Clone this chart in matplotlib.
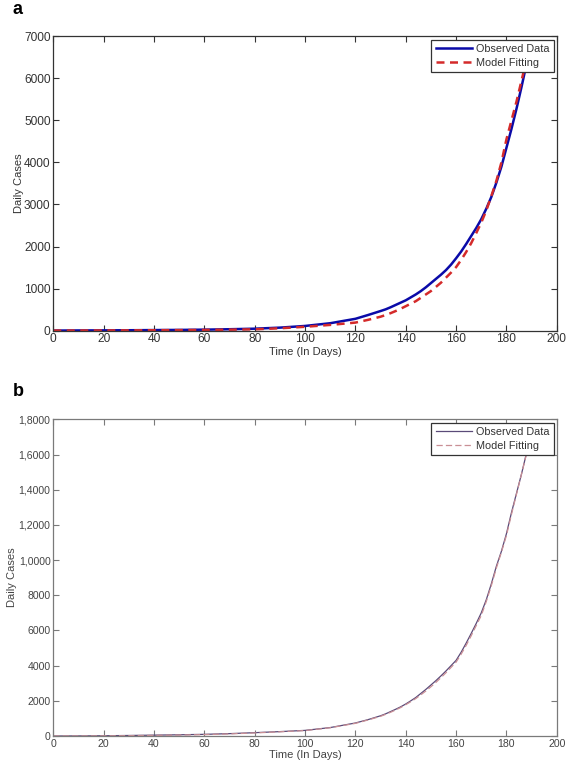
import matplotlib
matplotlib.use('Agg')
import matplotlib.pyplot as plt

plt.rcParams['font.family'] = ['Liberation Sans', 'DejaVu Sans']

# panel a: values
days_a = [0, 10, 20, 30, 40, 50, 60, 70, 80, 90, 100, 110, 120, 125,
          130, 132, 134, 136, 138, 140, 142, 144, 146, 148, 150, 152, 154, 156, 158,
          160, 162, 164, 166, 168, 170, 172, 174, 176, 178, 180,
          182, 184, 186, 188, 190]
observed_a = [0, 3, 5, 8, 12, 16, 22, 32, 45, 70, 110, 175, 280, 370,
              465, 505, 555, 610, 665, 720, 790, 860, 940, 1030, 1130, 1230, 1330, 1440, 1570,
              1720, 1880, 2060, 2250, 2440, 2650, 2900, 3180, 3520, 3900, 4350,
              4800, 5280, 5800, 6350, 6800]
model_a = [0, 1, 3, 5, 8, 11, 15, 21, 30, 55, 90, 135, 190, 255,
           330, 370, 415, 465, 520, 580, 640, 700, 780, 860, 940, 1040, 1140, 1260, 1380,
           1510, 1680, 1870, 2080, 2320, 2570, 2860, 3200, 3560, 4000, 4550,
           5000, 5450, 5950, 6450, 6850]

# panel b
days_b = [0, 10, 20, 30, 40, 50, 60, 70, 80, 90, 100, 110, 120, 125,
          130, 132, 134, 136, 138, 140, 142, 144, 146, 148, 150, 152, 154, 156, 158,
          160, 162, 164, 166, 168, 170, 172, 174, 176, 178, 180,
          182, 184, 186, 188, 190]
observed_b = [0, 5, 15, 30, 50, 70, 95, 135, 190, 250, 320, 480, 740, 930,
              1150, 1260, 1390, 1520, 1660, 1820, 2000, 2190, 2420, 2650, 2900, 3150, 3420, 3700, 4000,
              4300, 4760, 5280, 5830, 6400, 7000, 7750, 8650, 9650, 10500, 11500,
              12700, 13800, 14900, 16100, 17300]
model_b = [0, 3, 10, 20, 35, 55, 80, 120, 175, 240, 310, 470, 720, 910,
           1120, 1230, 1350, 1480, 1620, 1780, 1950, 2130, 2340, 2560, 2800, 3050, 3320, 3600, 3900,
           4200, 4650, 5150, 5700, 6280, 6850, 7650, 8550, 9550, 10450, 11400,
           12600, 13750, 14900, 16050, 17400]

xticks = [0, 20, 40, 60, 80, 100, 120, 140, 160, 180, 200]
yticks_a = [0, 1000, 2000, 3000, 4000, 5000, 6000, 7000]
yticks_b = [0, 2000, 4000, 6000, 8000, 10000, 12000, 14000, 16000, 18000]
ylabels_b = ['0', '2000', '4000', '6000', '8000', '1,0000', '1,2000', '1,4000', '1,6000', '1,8000']

fig = plt.figure(figsize=(5.67, 7.67), dpi=100)
ax1 = fig.add_axes([0.094, 0.569, 0.888, 0.3836])
ax2 = fig.add_axes([0.094, 0.0404, 0.888, 0.4129])


def style_axes(ax, col, fs):
    for s in ax.spines.values():
        s.set_color(col)
        s.set_linewidth(0.9)
    ax.tick_params(direction='in', length=4, width=0.8, colors=col,
                   labelsize=fs, labelcolor='#333333', top=True, right=True, pad=2)
    ax.set_xlim(0, 200)
    ax.set_xticks(xticks)


def add_legend(ax):
    leg = ax.legend(loc='upper right', fontsize=7.8, fancybox=False, framealpha=1,
                    edgecolor='#333333', borderaxespad=0.3, handlelength=3.4,
                    handletextpad=0.3, borderpad=0.4, labelspacing=0.35)
    leg.get_frame().set_linewidth(0.9)
    for t in leg.get_texts():
        t.set_color('#333333')


# a
ax1.plot(days_a, observed_a, color='#0a0aa8', lw=1.8, label='Observed Data')
ax1.plot(days_a, model_a, color='#d42a2a', lw=1.8, ls=(0, (3.2, 2.2)), label='Model Fitting')
style_axes(ax1, '#333333', 8.6)
ax1.set_ylim(0, 7000)
ax1.set_yticks(yticks_a)
ax1.set_xlabel('Time (In Days)', fontsize=8, color='#333333', labelpad=1)
ax1.set_ylabel('Daily Cases', fontsize=8, color='#333333', labelpad=0)
add_legend(ax1)

# b
ax2.plot(days_b, observed_b, color='#5a4a78', lw=0.9, label='Observed Data')
ax2.plot(days_b, model_b, color='#c98f95', lw=0.9, ls=(0, (5, 2.5)), label='Model Fitting')
style_axes(ax2, '#7a7a7a', 7.6)
ax2.set_ylim(0, 18000)
ax2.set_yticks(yticks_b)
ax2.set_yticklabels(ylabels_b)
ax2.tick_params(labelcolor='#444444')
ax2.set_xlabel('Time (In Days)', fontsize=8, color='#444444', labelpad=1)
ax2.set_ylabel('Daily Cases', fontsize=8, color='#444444', labelpad=1)
add_legend(ax2)

fig.text(0.022, 0.988, 'a', fontsize=13, fontweight='bold', va='center')
fig.text(0.022, 0.489, 'b', fontsize=13, fontweight='bold', va='center')

fig.savefig('out.png', dpi=100)
